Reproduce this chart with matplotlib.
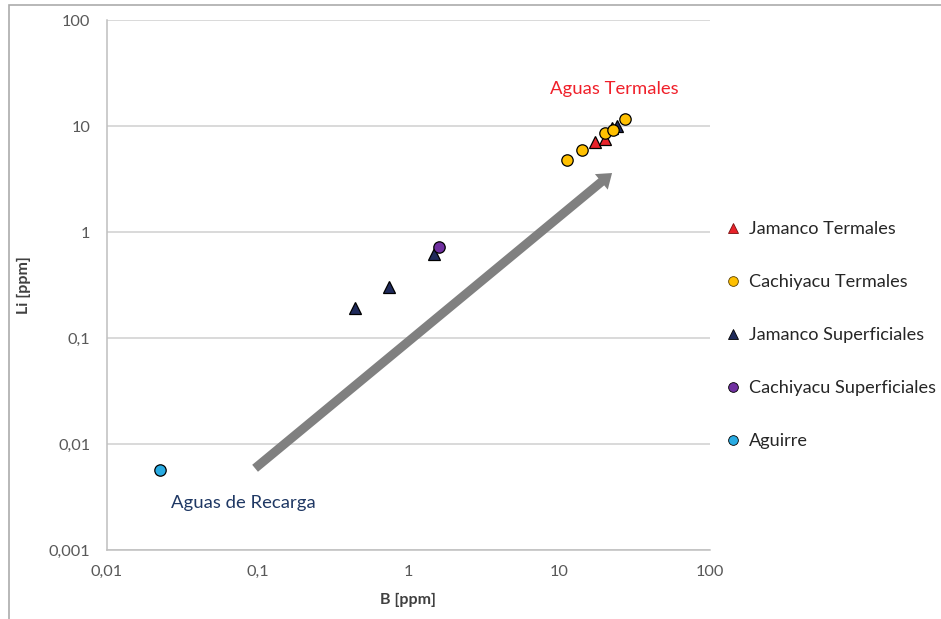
import matplotlib
matplotlib.use("Agg")
import matplotlib.pyplot as plt
from matplotlib.patches import Rectangle
from matplotlib.lines import Line2D

plt.rcParams['font.family'] = ['Lato', 'DejaVu Sans']

# ---- data (B [ppm], Li [ppm]) ----
jam_term_B = [17.3, 20.0]
jam_term_Li = [7.0, 7.6]

cach_term_B = [11.2, 14.2, 20.1, 22.7, 27.3]
cach_term_Li = [4.8, 5.9, 8.6, 9.2, 11.7]

jam_sup_B = [0.44, 0.74, 1.48, 22.5, 24.0]
jam_sup_Li = [0.19, 0.30, 0.62, 9.6, 9.9]

cach_sup_B = [1.59]
cach_sup_Li = [0.72]

aguirre_B = [0.0225]
aguirre_Li = [0.0057]

series_names = ["Jamanco Termales", "Cachiyacu Termales", "Jamanco Superficiales",
                "Cachiyacu Superficiales", "Aguirre"]

x_ticks = [0.01, 0.1, 1, 10, 100]
x_ticklabels = ["0,01", "0,1", "1", "10", "100"]
y_ticks = [0.001, 0.01, 0.1, 1, 10, 100]
y_ticklabels = ["0,001", "0,01", "0,1", "1", "10", "100"]

arrow_start = (0.096, 0.0059)
arrow_end = (22.4, 3.6)
label_termales = (23.1, 22.3)
label_recarga = (0.080, 0.00277)

# ---- figure ----
fig = plt.figure(figsize=(9.41, 6.19), dpi=100)
ax = fig.add_axes([107/941, 1 - 550/619, (710-107)/941, (550-20)/619])

ax.set_xscale('log')
ax.set_yscale('log')
ax.set_xlim(0.01, 100)
ax.set_ylim(0.001, 100)

ax.set_xticks(x_ticks)
ax.set_xticklabels(x_ticklabels)
ax.set_yticks(y_ticks)
ax.set_yticklabels(y_ticklabels)
ax.minorticks_off()
ax.tick_params(length=0, labelsize=11.8, colors='#595959', pad=12)
ax.tick_params(axis='x', pad=11)

ax.grid(axis='y', color='#D0D0D0', lw=1.1)
ax.set_axisbelow(True)
for s in ['top', 'right']:
    ax.spines[s].set_visible(False)
for s in ['left', 'bottom']:
    ax.spines[s].set_color('#BFBFBF')
    ax.spines[s].set_linewidth(1.1)

# arrow
ax.annotate('', xy=arrow_end, xytext=arrow_start,
            arrowprops=dict(arrowstyle='simple,head_length=1.0,head_width=1.45,tail_width=0.65',
                            mutation_scale=10, fc='#808080', ec='none', lw=0,
                            shrinkA=0, shrinkB=0), zorder=2)

ms_c = 8.2
ms_t = 8.8
ax.plot(jam_sup_B, jam_sup_Li, ls='none', marker='^', ms=ms_t, mfc='#1F2A5A', mec='black', mew=0.9, zorder=3)
ax.plot(cach_sup_B, cach_sup_Li, ls='none', marker='o', ms=ms_c, mfc='#7030A0', mec='black', mew=0.9, zorder=4)
ax.plot(jam_term_B, jam_term_Li, ls='none', marker='^', ms=ms_t, mfc='#E8222A', mec='black', mew=0.9, zorder=4)
ax.plot(cach_term_B, cach_term_Li, ls='none', marker='o', ms=ms_c, mfc='#FFC000', mec='black', mew=0.9, zorder=5)
ax.plot(aguirre_B, aguirre_Li, ls='none', marker='o', ms=ms_c, mfc='#29ABE2', mec='black', mew=0.9, zorder=4)

ax.text(*label_termales, "Aguas Termales", color='#F0202A', fontsize=13.3, ha='center', va='center')
ax.text(*label_recarga, "Aguas de Recarga", color='#1F3864', fontsize=13.3, ha='center', va='center')

ax.set_xlabel("B [ppm]", fontsize=11.5, fontweight='bold', color='#404040', labelpad=10)
ax.set_ylabel("Li [ppm]", fontsize=11.5, fontweight='bold', color='#404040', labelpad=13)

handles = [
    Line2D([], [], ls='none', marker='^', ms=7, mfc='#E8222A', mec='#7a1010', mew=0.6),
    Line2D([], [], ls='none', marker='o', ms=7, mfc='#FFC000', mec='#5a4000', mew=0.6),
    Line2D([], [], ls='none', marker='^', ms=7, mfc='#1F2A5A', mec='black', mew=0.6),
    Line2D([], [], ls='none', marker='o', ms=7, mfc='#7030A0', mec='black', mew=0.6),
    Line2D([], [], ls='none', marker='o', ms=7, mfc='#29ABE2', mec='black', mew=0.6),
]
leg = fig.legend(handles, series_names, loc='upper left', bbox_to_anchor=(726/941, 1 - 221/619),
                 frameon=False, fontsize=13.1, labelspacing=2.04, handlelength=0.8,
                 handletextpad=0.45, borderaxespad=0, borderpad=0)
for t in leg.get_texts():
    t.set_color('#262626')

fig.patches.append(Rectangle((9/941, -0.1), 2, (1 - 5/619) + 0.1, transform=fig.transFigure,
                             fill=False, edgecolor='#ABABAB', lw=1.2))

fig.savefig("out.png", dpi=100)
